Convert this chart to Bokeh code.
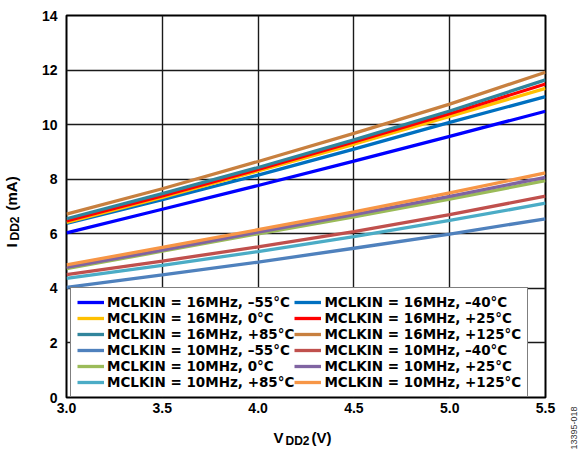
from math import pi
from bokeh.plotting import figure
from bokeh.layouts import row, column
from bokeh.models import Label, Legend, LegendItem, FixedTicker, NumeralTickFormatter, Range1d
from bokeh.embed import file_html
from bokeh.resources import INLINE

# ---- data ----
vdd2 = [3.0, 3.5, 4.0, 4.5, 5.0, 5.5]
x_ticks = [3.0, 3.5, 4.0, 4.5, 5.0, 5.5]
y_ticks = [0, 2, 4, 6, 8, 10, 12, 14]

idd_16_m55 = [6.03, 6.90, 7.77, 8.66, 9.57, 10.49]
idd_16_m40 = [6.38, 7.25, 8.15, 9.10, 10.08, 11.03]
idd_16_0 = [6.42, 7.33, 8.30, 9.28, 10.30, 11.33]
idd_16_p25 = [6.47, 7.39, 8.36, 9.37, 10.40, 11.49]
idd_16_p85 = [6.55, 7.47, 8.43, 9.44, 10.50, 11.64]
idd_16_p125 = [6.72, 7.65, 8.65, 9.68, 10.75, 11.92]

idd_10_m55 = [4.04, 4.49, 4.96, 5.47, 5.99, 6.55]
idd_10_m40 = [4.50, 5.00, 5.52, 6.08, 6.70, 7.38]
idd_10_0 = [4.72, 5.36, 6.00, 6.62, 7.27, 7.95]
idd_10_p25 = [4.77, 5.40, 6.06, 6.70, 7.37, 8.07]
idd_10_p85 = [4.37, 4.84, 5.35, 5.90, 6.49, 7.12]
idd_10_p125 = [4.86, 5.50, 6.15, 6.80, 7.50, 8.23]

labels = [
    "MCLKIN = 16MHz, \u201355\u00b0C", "MCLKIN = 16MHz, \u201340\u00b0C",
    "MCLKIN = 16MHz, 0\u00b0C", "MCLKIN = 16MHz, +25\u00b0C",
    "MCLKIN = 16MHz, +85\u00b0C", "MCLKIN = 16MHz, +125\u00b0C",
    "MCLKIN = 10MHz, \u201355\u00b0C", "MCLKIN = 10MHz, \u201340\u00b0C",
    "MCLKIN = 10MHz, 0\u00b0C", "MCLKIN = 10MHz, +25\u00b0C",
    "MCLKIN = 10MHz, +85\u00b0C", "MCLKIN = 10MHz, +125\u00b0C",
]
values = [idd_16_m55, idd_16_m40, idd_16_0, idd_16_p25, idd_16_p85, idd_16_p125,
          idd_10_m55, idd_10_m40, idd_10_0, idd_10_p25, idd_10_p85, idd_10_p125]
colors = ["#0000FF", "#0070C0", "#FFC000", "#FF0000", "#31859C", "#C8803F",
          "#4F81BD", "#C0504D", "#9BBB59", "#8064A2", "#4BACC6", "#F79646"]

FONT = "Liberation Sans"
TOTAL_H = 451

# ---- main plot ----
p = figure(width=519, height=422, output_backend="svg", toolbar_location=None,
           x_range=Range1d(3.0, 5.5), y_range=Range1d(0, 14),
           min_border_left=27, min_border_right=12, min_border_top=15, min_border_bottom=25,
           frame_align=False)
p.background_fill_color = "white"
p.border_fill_color = "white"
p.outline_line_color = "black"
p.outline_line_width = 2

for ax in (p.xaxis[0], p.yaxis[0]):
    ax.axis_line_color = None
    ax.major_tick_line_color = None
    ax.minor_tick_line_color = None
    ax.major_tick_out = 0
    ax.major_tick_in = 0
    ax.minor_tick_out = 0
    ax.minor_tick_in = 0
    ax.major_label_text_font = FONT
    ax.major_label_text_font_style = "bold"
    ax.major_label_text_font_size = "14px"
    ax.major_label_text_color = "black"
p.xaxis.ticker = FixedTicker(ticks=x_ticks)
p.yaxis.ticker = FixedTicker(ticks=y_ticks)
p.xaxis.formatter = NumeralTickFormatter(format="0.0")
p.xaxis.major_label_standoff = 5
p.yaxis.major_label_standoff = 9
p.xgrid.ticker = FixedTicker(ticks=x_ticks)
p.ygrid.ticker = FixedTicker(ticks=y_ticks)
for g in (p.xgrid[0], p.ygrid[0]):
    g.grid_line_color = "#1a1a1a"
    g.grid_line_width = 1.4

items = []
for lab_, vals, col in zip(labels, values, colors):
    r = p.line(vdd2, vals, line_color=col, line_width=3.3)
    items.append(LegendItem(label=lab_, renderers=[r]))

# legend fills column by column: put the entries so that rows read as in the reference
ordered = items[0::2] + items[1::2]
legend = Legend(items=ordered, ncols=2, location=(4, 0),
                label_text_font="DejaVu Sans", label_text_font_style="bold",
                label_text_font_size="13.5px", label_text_color="black",
                glyph_width=27, glyph_height=12, label_height=12, label_standoff=3,
                spacing=0, padding=6, margin=0,
                border_line_color="black", border_line_width=1.5,
                background_fill_color="white", background_fill_alpha=1.0)
p.add_layout(legend, "center")


def text_strip(width, height):
    f = figure(width=width, height=height, output_backend="svg", toolbar_location=None,
               x_axis_type=None, y_axis_type=None, min_border=0, frame_align=False,
               x_range=Range1d(0, 1), y_range=Range1d(0, 1))
    f.outline_line_color = None
    f.grid.visible = False
    f.background_fill_color = "white"
    f.border_fill_color = "white"
    return f


def lab(f, text, x, y, size, angle=0.0, style="bold", color="black", font=FONT):
    f.add_layout(Label(x=x, y=y, x_units="screen", y_units="screen", text=text,
                       angle=angle, text_font=font, text_font_style=style,
                       text_font_size=size, text_color=color,
                       text_align="left", text_baseline="alphabetic"))


# y-axis title  I_DD2 (mA)
left = text_strip(38, TOTAL_H)
lab(left, "I", 11, 204, "15px", pi / 2)
lab(left, "DD2", 14, 211, "12px", pi / 2)
lab(left, "(mA)", 11, 241, "15px", pi / 2)

# x-axis title  V_DD2 (V)
bottom = text_strip(519, TOTAL_H - 422)
lab(bottom, "V", 235, 14, "15px")
lab(bottom, "DD2", 247, 11, "12px")
lab(bottom, "(V)", 273, 14, "15px")

# figure id
right = text_strip(23, TOTAL_H)
lab(right, "13395-018", 16, 2, "9px", pi / 2, style="normal", color="#333333")

layout = row(left, column(p, bottom), right)
open("out.html", "w").write(file_html(layout, INLINE))
